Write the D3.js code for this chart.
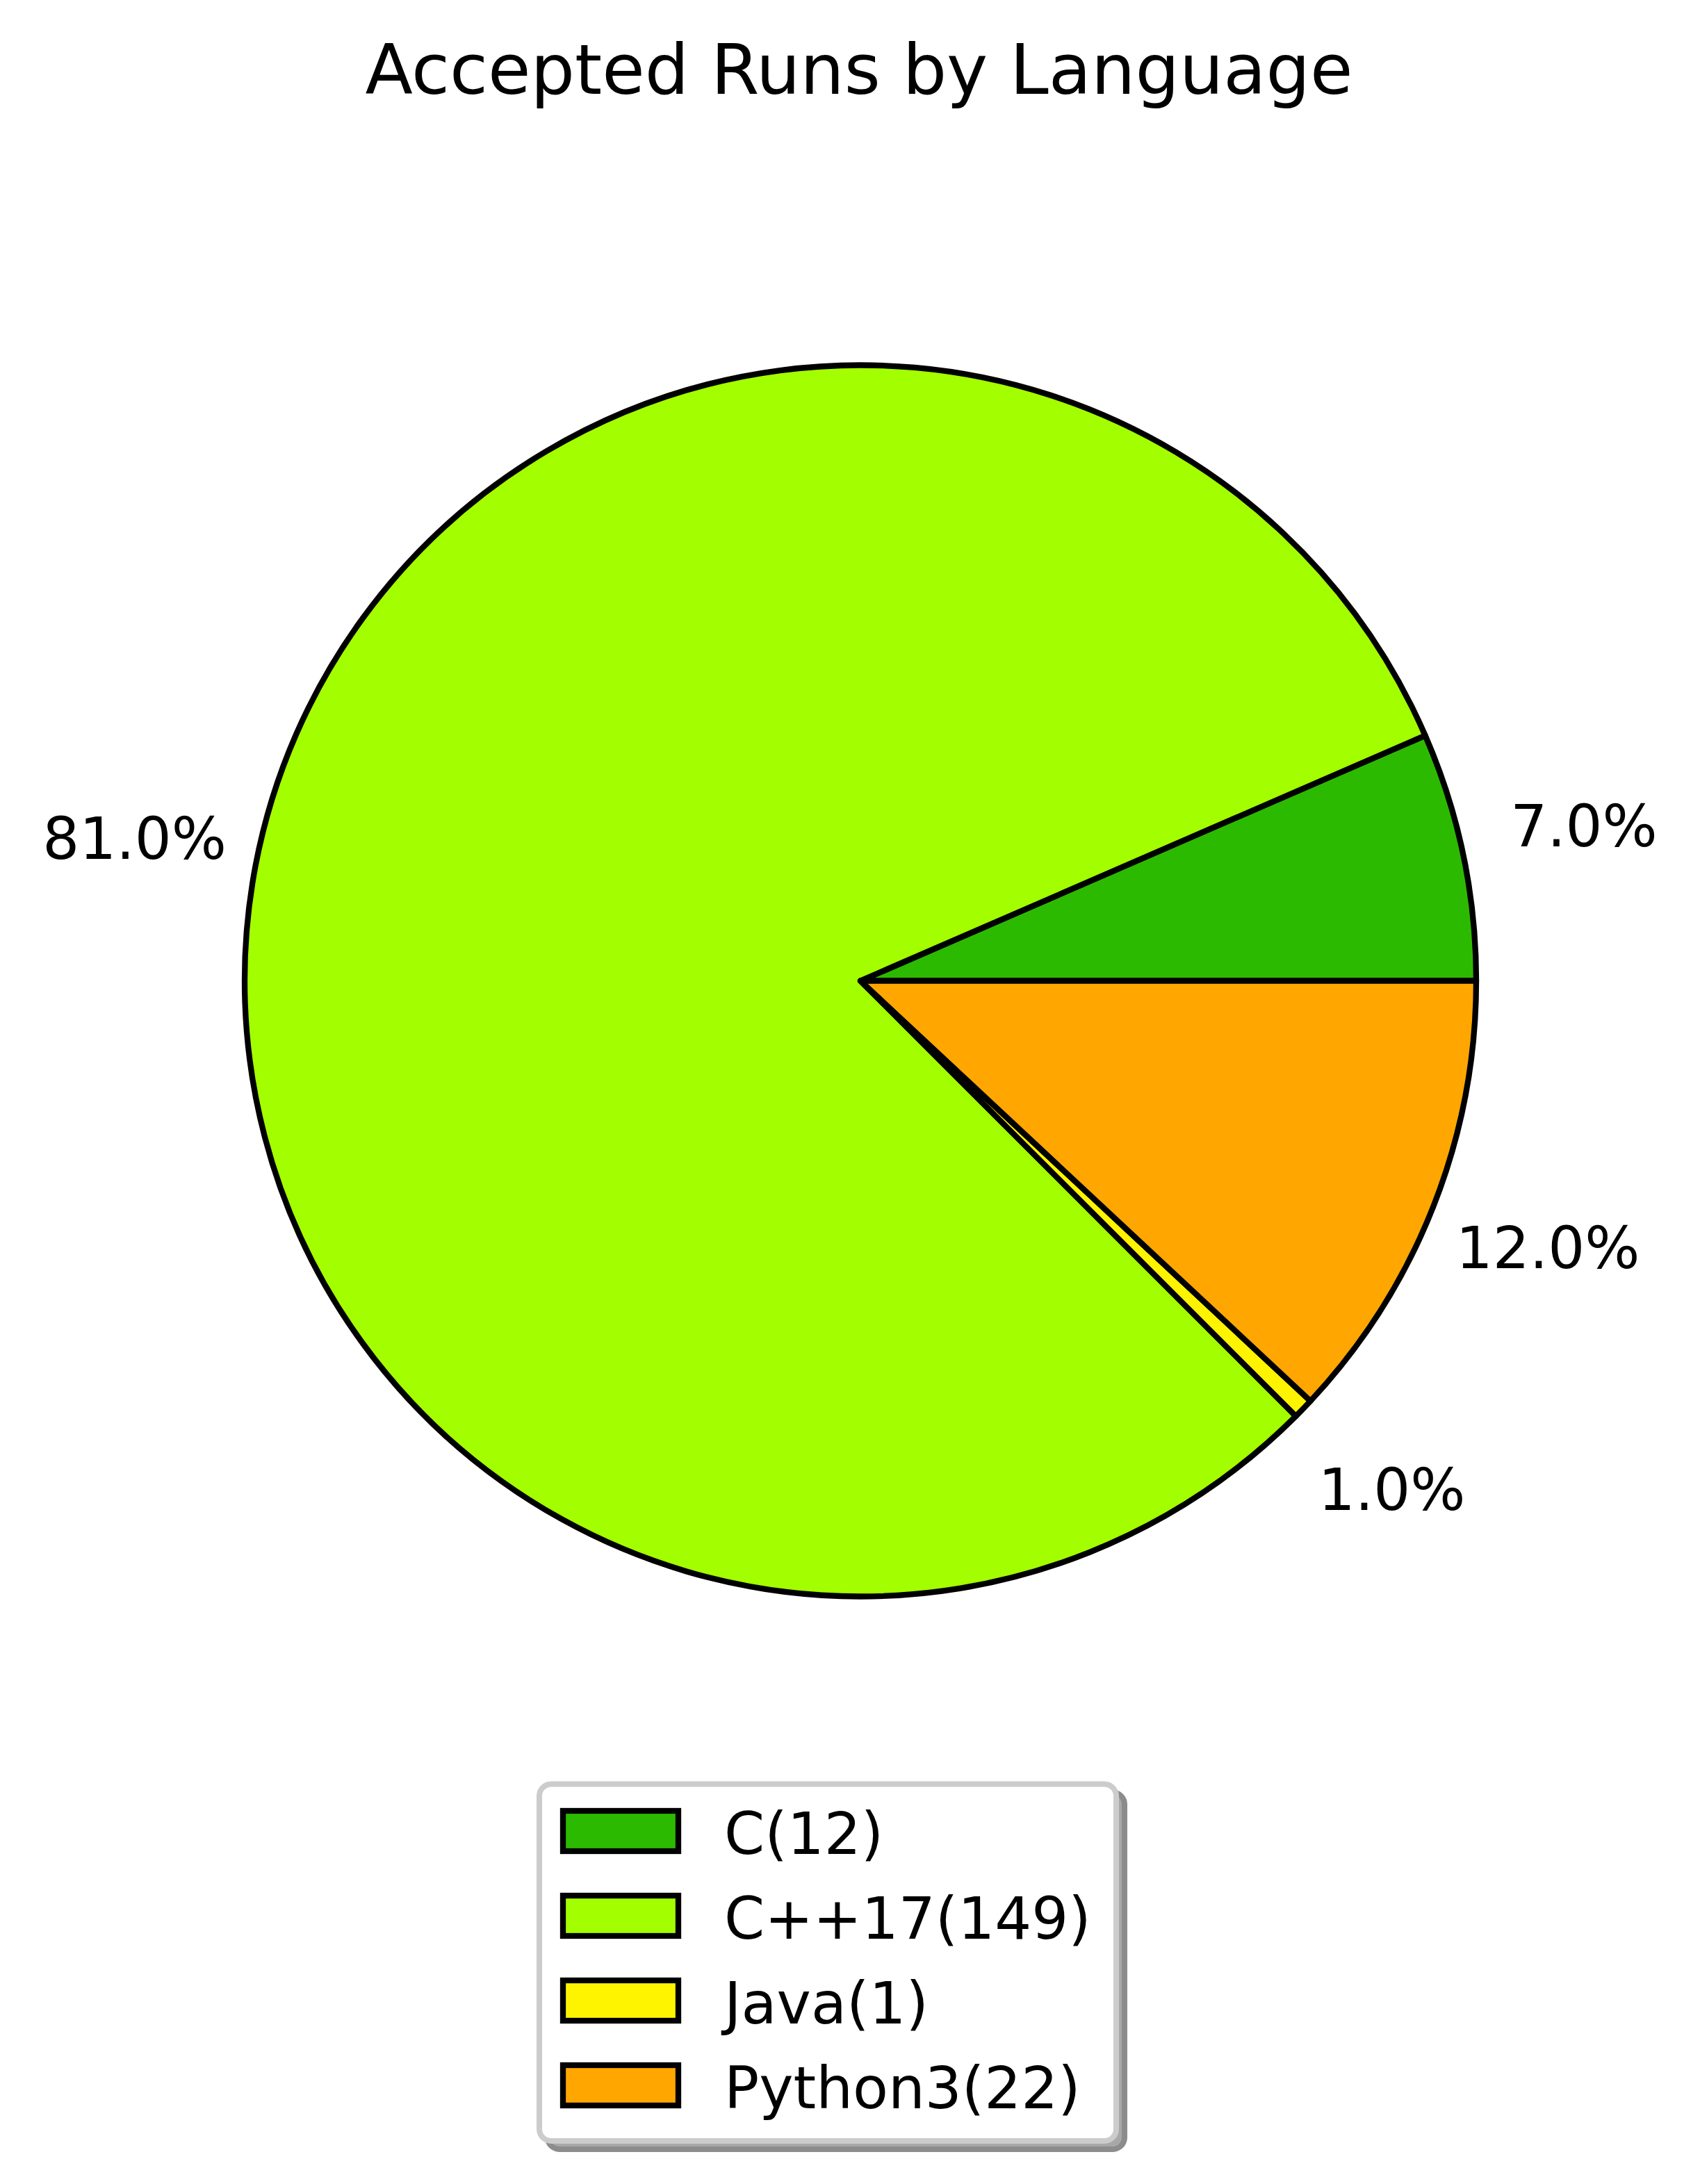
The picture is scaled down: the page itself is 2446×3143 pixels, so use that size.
<!DOCTYPE html>
<head>
    <meta charset='utf-8'>
    <style>
        body {
            margin: 0;
            background: #fff;
            font-family: 'DejaVu Sans', sans-serif;
        }

        .wedge {
            stroke: #000;
            stroke-width: 8.3px;
            stroke-linejoin: round;
        }

        .pct {
            font-size: 83.3px;
            text-anchor: middle;
        }

        .legend-text {
            font-size: 83.3px;
        }
    </style>
</head>

<body>
<div id='vis'></div>
<script src='https://cdn.jsdelivr.net/npm/d3@7'></script>
<script>
  const width = 2446,
    height = 3143

  // data
  const languages = ['C', 'C++17', 'Java', 'Python3']
  const counts = [12, 149, 1, 22]
  const pctLabels = ['7.0%', '81.0%', '1.0%', '12.0%']
  const colors = ['#2cba00', '#a3ff00', '#fff400', '#ffa700']

  const cx = 1238, cy = 1411.5, radius = 886

  const svg = d3.select('#vis')
    .append('svg')
    .attr('width', width)
    .attr('height', height)

  // title
  svg.append('text')
    .attr('x', 1236)
    .attr('y', 135)
    .attr('text-anchor', 'middle')
    .style('font-size', '100px')
    .text('Accepted Runs by Language')

  const color = d3.scaleOrdinal()
    .domain(languages)
    .range(colors)

  // start at 3 o'clock and go counter-clockwise, like matplotlib
  const pie = d3.pie()
    .sort(null)
    .value((d, i) => counts[i])
    .startAngle(Math.PI / 2)
    .endAngle(Math.PI / 2 - 2 * Math.PI)

  const arcs = pie(languages)

  const arc = d3.arc()
    .innerRadius(0)
    .outerRadius(radius)

  const labelArc = d3.arc()
    .innerRadius(radius * 1.2)
    .outerRadius(radius * 1.2)

  const plot = svg.append('g')
    .attr('transform', `translate(${cx}, ${cy})`)

  plot.selectAll('.wedge')
    .data(arcs)
    .enter()
    .append('path')
    .attr('class', 'wedge')
    .attr('d', arc)
    .attr('fill', d => color(d.data))

  plot.selectAll('.pct')
    .data(arcs)
    .enter()
    .append('text')
    .attr('class', 'pct')
    .attr('x', d => labelArc.centroid(d)[0])
    .attr('y', d => labelArc.centroid(d)[1] + 23)
    .text((d, i) => pctLabels[i])

  // legend with shadow
  const lg = {x: 776, y: 2567.5, w: 830, h: 513.5}
  const rowH = 122

  svg.append('rect')
    .attr('x', lg.x + 12)
    .attr('y', lg.y + 12)
    .attr('width', lg.w)
    .attr('height', lg.h)
    .attr('rx', 17)
    .attr('fill', '#a8a8a8')
    .attr('stroke', '#8c8c8c')
    .attr('stroke-width', 8)

  svg.append('rect')
    .attr('x', lg.x)
    .attr('y', lg.y)
    .attr('width', lg.w)
    .attr('height', lg.h)
    .attr('rx', 17)
    .attr('fill', '#fff')
    .attr('stroke', '#cccccc')
    .attr('stroke-width', 8)

  const items = svg.selectAll('.legend-item')
    .data(languages)
    .enter()
    .append('g')
    .attr('class', 'legend-item')
    .attr('transform', (d, i) => `translate(810, ${2606 + i * rowH})`)

  items.append('rect')
    .attr('width', 166)
    .attr('height', 58)
    .attr('fill', d => color(d))
    .attr('stroke', '#000')
    .attr('stroke-width', 8.3)

  items.append('text')
    .attr('class', 'legend-text')
    .attr('x', 232)
    .attr('y', 62)
    .text((d, i) => `${d}(${counts[i]})`)
</script>
</body>
